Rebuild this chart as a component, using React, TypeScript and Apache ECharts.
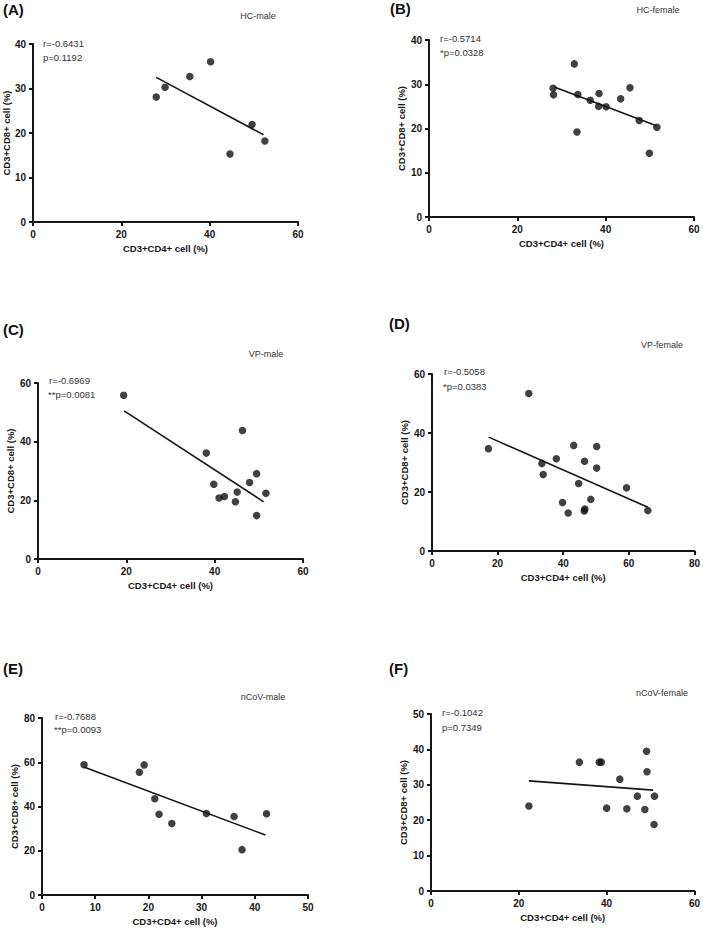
import React, { useEffect, useRef } from "react";
import * as echarts from "echarts";

const xName = "CD3+CD4+ cell (%)";
const yName = "CD3+CD8+ cell (%)";
const panelLetters = ["(A)", "(B)", "(C)", "(D)", "(E)", "(F)"];
const panelTitles = ["HC-male", "HC-female", "VP-male", "VP-female", "nCoV-male", "nCoV-female"];
const rTexts = ["r=-0.6431", "r=-0.5714", "r=-0.6969", "r=-0.5058", "r=-0.7688", "r=-0.1042"];
const pTexts = ["p=0.1192", "*p=0.0328", "**p=0.0081", "*p=0.0383", "**p=0.0093", "p=0.7349"];

// Axis ranges / ticks
const xMax = [60, 60, 60, 80, 50, 60];
const xStep = [20, 20, 20, 20, 10, 20];
const yMax = [40, 40, 60, 60, 80, 50];
const yStep = [10, 10, 20, 20, 20, 10];

// (A) HC-male
const hcMaleCD4 = [27.9, 29.9, 35.5, 40.2, 44.6, 49.6, 52.5];
const hcMaleCD8 = [28.1, 30.3, 32.7, 36.0, 15.3, 21.9, 18.2];
const hcMaleFitX = [27.9, 52.2];
const hcMaleFitY = [32.5, 19.6];

// (B) HC-female
const hcFemaleCD4 = [28.1, 28.2, 32.9, 33.7, 33.5, 36.5, 38.5, 38.4, 40.1, 43.4, 45.5, 47.6, 51.6, 49.9];
const hcFemaleCD8 = [29.1, 27.6, 34.6, 27.7, 19.2, 26.4, 27.9, 25.0, 24.9, 26.7, 29.2, 21.8, 20.3, 14.4];
const hcFemaleFitX = [28.5, 51.5];
const hcFemaleFitY = [29.3, 20.6];

// (C) VP-male
const vpMaleCD4 = [19.4, 38.1, 46.3, 39.8, 41.0, 42.2, 45.1, 44.7, 47.9, 49.5, 49.5, 51.6];
const vpMaleCD8 = [55.8, 36.1, 43.8, 25.5, 20.8, 21.3, 22.8, 19.5, 26.1, 29.1, 14.8, 22.4];
const vpMaleFitX = [19.5, 51.1];
const vpMaleFitY = [50.5, 19.5];

// (D) VP-female
const vpFemaleCD4 = [17.2, 29.5, 33.5, 33.9, 37.9, 43.2, 39.8, 41.5, 44.7, 46.5, 46.4, 46.6, 48.4, 50.2, 50.2, 59.3, 65.8];
const vpFemaleCD8 = [34.7, 53.4, 29.7, 25.9, 31.3, 35.8, 16.4, 12.9, 22.9, 30.4, 13.6, 14.2, 17.5, 35.4, 28.1, 21.4, 13.7];
const vpFemaleFitX = [17.3, 65.8];
const vpFemaleFitY = [38.6, 14.8];

// (E) nCoV-male
const ncovMaleCD4 = [7.9, 18.3, 19.2, 21.2, 22.0, 24.4, 30.9, 36.1, 37.6, 42.2];
const ncovMaleCD8 = [58.9, 55.5, 58.8, 43.5, 36.5, 32.3, 36.8, 35.5, 20.5, 36.7];
const ncovMaleFitX = [8.0, 42.0];
const ncovMaleFitY = [57.7, 27.1];

// (F) nCoV-female
const ncovFemaleCD4 = [22.3, 33.8, 38.3, 38.8, 40.0, 43.0, 44.6, 47.0, 49.1, 49.2, 48.7, 50.9, 50.8];
const ncovFemaleCD8 = [24.0, 36.4, 36.4, 36.4, 23.4, 31.6, 23.2, 26.8, 39.5, 33.7, 23.0, 26.8, 18.8];
const ncovFemaleFitX = [22.3, 50.6];
const ncovFemaleFitY = [31.1, 28.5];

const pointsX = [hcMaleCD4, hcFemaleCD4, vpMaleCD4, vpFemaleCD4, ncovMaleCD4, ncovFemaleCD4];
const pointsY = [hcMaleCD8, hcFemaleCD8, vpMaleCD8, vpFemaleCD8, ncovMaleCD8, ncovFemaleCD8];
const fitsX = [hcMaleFitX, hcFemaleFitX, vpMaleFitX, vpFemaleFitX, ncovMaleFitX, ncovFemaleFitX];
const fitsY = [hcMaleFitY, hcFemaleFitY, vpMaleFitY, vpFemaleFitY, ncovMaleFitY, ncovFemaleFitY];

// Layout (pixels)
const grids = [
  { left: 33, top: 44, width: 265, height: 178 },
  { left: 429, top: 40, width: 265, height: 177 },
  { left: 38, top: 383, width: 265, height: 176 },
  { left: 432, top: 374, width: 265, height: 177 },
  { left: 42, top: 718, width: 266, height: 177 },
  { left: 431, top: 714, width: 266, height: 177 },
];
const letterPos = [[3, 9], [390, 8], [3, 329], [389, 323], [3, 668], [389, 668]];
const titlePos = [[258, 16], [658, 10], [266, 354], [662, 345], [263, 697], [662, 693]];
const rPos = [[43, 43], [440, 38], [49, 380], [444, 371], [55, 716], [442, 712]];
const pPos = [[43, 57], [440, 52], [48, 394], [443, 386], [54, 729], [442, 727]];

const FONT = "'Liberation Sans', Arial, Helvetica, sans-serif";
const INK = "#161616";

export default function App() {
  const ref = useRef<HTMLDivElement>(null);
  useEffect(() => {
    if (!ref.current) return;
    const chart = echarts.init(ref.current, undefined, { renderer: "svg" });
    const axisCommon = {
      type: "value" as const,
      min: 0,
      splitLine: { show: false },
      axisLine: { show: true, onZero: false, lineStyle: { color: INK, width: 2 } },
      axisTick: { show: true, length: 4, lineStyle: { color: INK, width: 2 } },
      axisLabel: { color: INK, fontWeight: "bold" as const, fontSize: 10, fontFamily: FONT, margin: 7 },
      nameLocation: "middle" as const,
      nameTextStyle: { color: INK, fontWeight: "bold" as const, fontSize: 9.5, fontFamily: FONT },
    };
    const xAxis = grids.map((_, i) => ({
      ...axisCommon,
      gridIndex: i,
      max: xMax[i],
      interval: xStep[i],
      name: xName,
      nameGap: 21,
    }));
    const yAxis = grids.map((_, i) => ({
      ...axisCommon,
      gridIndex: i,
      max: yMax[i],
      interval: yStep[i],
      name: yName,
      nameGap: 22,
    }));
    const series: any[] = [];
    grids.forEach((_, i) => {
      series.push({
        type: "scatter",
        xAxisIndex: i,
        yAxisIndex: i,
        symbol: "circle",
        symbolSize: 7.5,
        itemStyle: { color: "#111" },
        data: pointsX[i].map((x, k) => [x, pointsY[i][k]]),
        z: 3,
      });
      series.push({
        type: "line",
        xAxisIndex: i,
        yAxisIndex: i,
        showSymbol: false,
        symbol: "none",
        lineStyle: { color: INK, width: 1.6 },
        data: fitsX[i].map((x, k) => [x, fitsY[i][k]]),
        z: 2,
      });
    });
    const graphic: any[] = [];
    grids.forEach((_, i) => {
      graphic.push({
        type: "text",
        x: letterPos[i][0],
        y: letterPos[i][1],
        style: { text: panelLetters[i], fill: "#111", font: `bold 15px ${FONT}`, align: "left", verticalAlign: "middle" },
      });
      graphic.push({
        type: "text",
        x: titlePos[i][0],
        y: titlePos[i][1],
        style: { text: panelTitles[i], fill: "#333", font: `9px ${FONT}`, align: "center", verticalAlign: "middle" },
      });
      graphic.push({
        type: "text",
        x: rPos[i][0],
        y: rPos[i][1],
        style: { text: rTexts[i], fill: "#333", font: `9.5px ${FONT}`, align: "left", verticalAlign: "middle" },
      });
      graphic.push({
        type: "text",
        x: pPos[i][0],
        y: pPos[i][1],
        style: { text: pTexts[i], fill: "#333", font: `9.5px ${FONT}`, align: "left", verticalAlign: "middle" },
      });
    });
    chart.setOption({
      animation: false,
      backgroundColor: "#ffffff",
      textStyle: { fontFamily: FONT },
      grid: grids.map((g) => ({ ...g, containLabel: false })),
      xAxis,
      yAxis,
      series,
      graphic,
    });
    return () => chart.dispose();
  }, []);
  return (
    <div
      ref={ref}
      style={{ position: "absolute", left: 0, top: 0, width: 703, height: 930, background: "#fff" }}
    />
  );
}
